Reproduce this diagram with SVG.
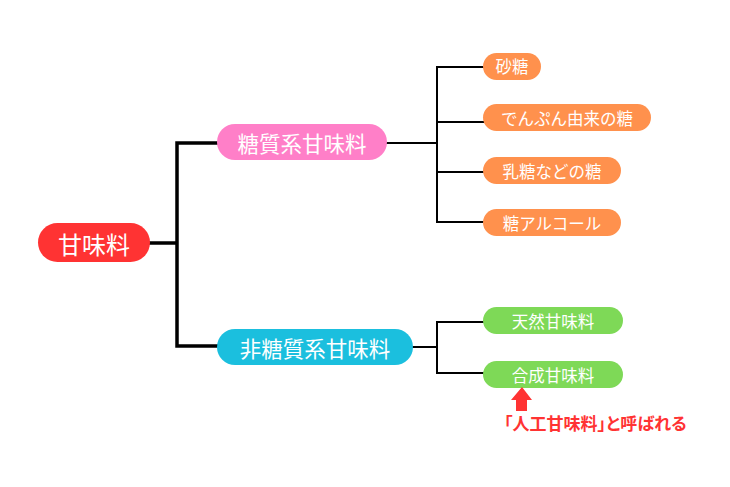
<svg xmlns="http://www.w3.org/2000/svg" width="730" height="487" viewBox="0 0 730 487">
<style>
text{font-family:"Noto Sans CJK JP","Noto Sans",sans-serif;fill:#fff;text-anchor:middle;dominant-baseline:central}
.l0{font-size:24px}
.l1{font-size:21.5px}
.l2{font-size:16.5px}
.c{fill:none;stroke:#000;stroke-linecap:square}
.thick{stroke-width:3.5}
.thin{stroke-width:2}
.note{fill:#FF3333;font-weight:bold;font-size:17px;text-anchor:start;font-feature-settings:"palt"}
</style>
<rect width="730" height="487" fill="#fff"/>
<g id="connectors">
<path class="c thick" d="M150 243H177M177 143V346M177 143H217M177 346H217"/>
<path class="c thin" d="M387 143H437M437 67V222M437 67H483M437 122H483M437 172H483M437 222H483"/>
<path class="c thin" d="M413 347H437M437 322V373M437 322H483M437 373H483"/>
</g>
<g id="root"><rect x="38" y="223" width="112" height="39" rx="19.5" fill="#FF3333"/><text class="l0" x="94" y="243">甘味料</text></g>
<g id="tousitsu"><rect x="217" y="124" width="170" height="36" rx="18" fill="#FF7FC8"/><text class="l1" x="302" y="142">糖質系甘味料</text></g>
<g id="hitousitsu"><rect x="217" y="329" width="196" height="36" rx="18" fill="#1BBFDE"/><text class="l1" x="315" y="347">非糖質系甘味料</text></g>
<g id="satou"><rect x="483" y="53" width="58" height="27" rx="13.5" fill="#FF914D"/><text class="l2" x="512" y="66">砂糖</text></g>
<g id="denpun"><rect x="483" y="104" width="168" height="27" rx="13.5" fill="#FF914D"/><text class="l2" x="567" y="117.5">でんぷん由来の糖</text></g>
<g id="nyuutou"><rect x="483" y="157" width="138" height="27" rx="13.5" fill="#FF914D"/><text class="l2" x="552" y="170.5">乳糖などの糖</text></g>
<g id="alcohol"><rect x="483" y="209" width="138" height="27" rx="13.5" fill="#FF914D"/><text class="l2" x="552" y="222.5">糖アルコール</text></g>
<g id="tennen"><rect x="483" y="307" width="140" height="27" rx="13.5" fill="#7ED957"/><text class="l2" x="553" y="320.5">天然甘味料</text></g>
<g id="gousei"><rect x="483" y="361" width="140" height="27" rx="13.5" fill="#7ED957"/><text class="l2" x="553" y="374.5">合成甘味料</text></g>
<g id="note">
<polygon points="522,387 532,400 527,400 527,411 516,411 516,400 511,400" fill="#FF3333"/>
<text class="note" x="504" y="422">「人工甘味料」と呼ばれる</text>
</g>
</svg>
